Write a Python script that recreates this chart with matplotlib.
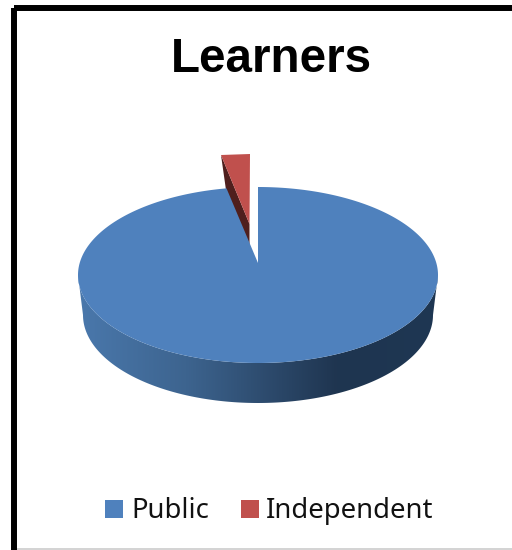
import matplotlib
matplotlib.use('Agg')
import matplotlib.pyplot as plt
from matplotlib.colors import LinearSegmentedColormap
from matplotlib.patches import Polygon, Rectangle
import numpy as np

title = 'Learners'
labels = ['Public', 'Independent']
values = [97.2, 2.8]
colors = ['#4F81BD', '#C0504D']

# figure is set up in pixels so the 3d look is easier to place
fig = plt.figure(figsize=(5.12, 5.5), dpi=100, facecolor='white')
ax = fig.add_axes([0, 0, 1, 1])
ax.set_xlim(0, 512)
ax.set_ylim(550, 0)
ax.axis('off')

# ellipse of the pie top
cx, cy = 258, 275
rx, ry = 180, 88
depth = 40
rx_low = 175


def rim(angle, a=rx, b=ry, y0=cy):
    # angle in degrees, clockwise from 12 o'clock
    t = np.radians(angle)
    return cx + a * np.sin(t), y0 - b * np.cos(t)


# side of the disc, shaded left to right
t = np.linspace(90, 270, 200)
tx, ty = rim(t)
bx, by = rim(t, rx_low, ry, cy + depth)
side = np.column_stack([np.r_[tx, bx[::-1]], np.r_[ty, by[::-1]]])
side_patch = Polygon(side, closed=True, fc='none', ec='none')
ax.add_patch(side_patch)
shade = LinearSegmentedColormap.from_list('side', [(0, '#4A78AC'), (0.3, '#3D648F'),
                                                   (0.72, '#1F3550'), (1, '#1E3753')])
img = ax.imshow(np.linspace(0, 1, 256).reshape(1, -1), cmap=shade, aspect='auto',
                extent=(78, 438, 410, 270), zorder=1)
img.set_clip_path(side_patch)
ax.set_xlim(0, 512)
ax.set_ylim(550, 0)

# pulled out slice: dark inner face then the red top
end_angle = 360 * values[0] / sum(values)
ax.add_patch(Polygon([(221, 155), (226, 190), (249.5, 246), (249.5, 224)], closed=True,
                     fc='#4F1F1D', ec='none', zorder=2))
ax.add_patch(Polygon([(221, 155), (250, 154), (249.5, 224)], closed=True, fc=colors[1], ec='none', zorder=2))

# main slice, apex sits a bit above the ellipse centre
a = np.linspace(0, end_angle, 400)
px, py = rim(a)
pts = np.column_stack([np.r_[px, 258], np.r_[py, 263]])
ax.add_patch(Polygon(pts, closed=True, fc=colors[0], ec='none', zorder=3))

ax.text(271.5, 60, title, ha='center', va='center', fontsize=34.3, fontweight='bold',
        family='Liberation Sans', color='black')

# frame of the slide
ax.add_patch(Rectangle((14, 8), 600, 700, fc='none', ec='black', lw=4.3, zorder=5))
ax.plot([17, 512], [549, 549], color='#CCCCCC', lw=1.2, zorder=4)

# legend by hand, ax.legend put the two labels on different baselines
for lab, c, x_box, x_txt in zip(labels, colors, [105, 241], [131, 266]):
    ax.add_patch(Rectangle((x_box, 500), 18, 18, fc=c, ec='none'))
    ax.text(x_txt, 518, lab, ha='left', va='baseline', fontsize=19.8,
            family='Noto Sans', color='#111111')

fig.savefig('out.png', dpi=100)
